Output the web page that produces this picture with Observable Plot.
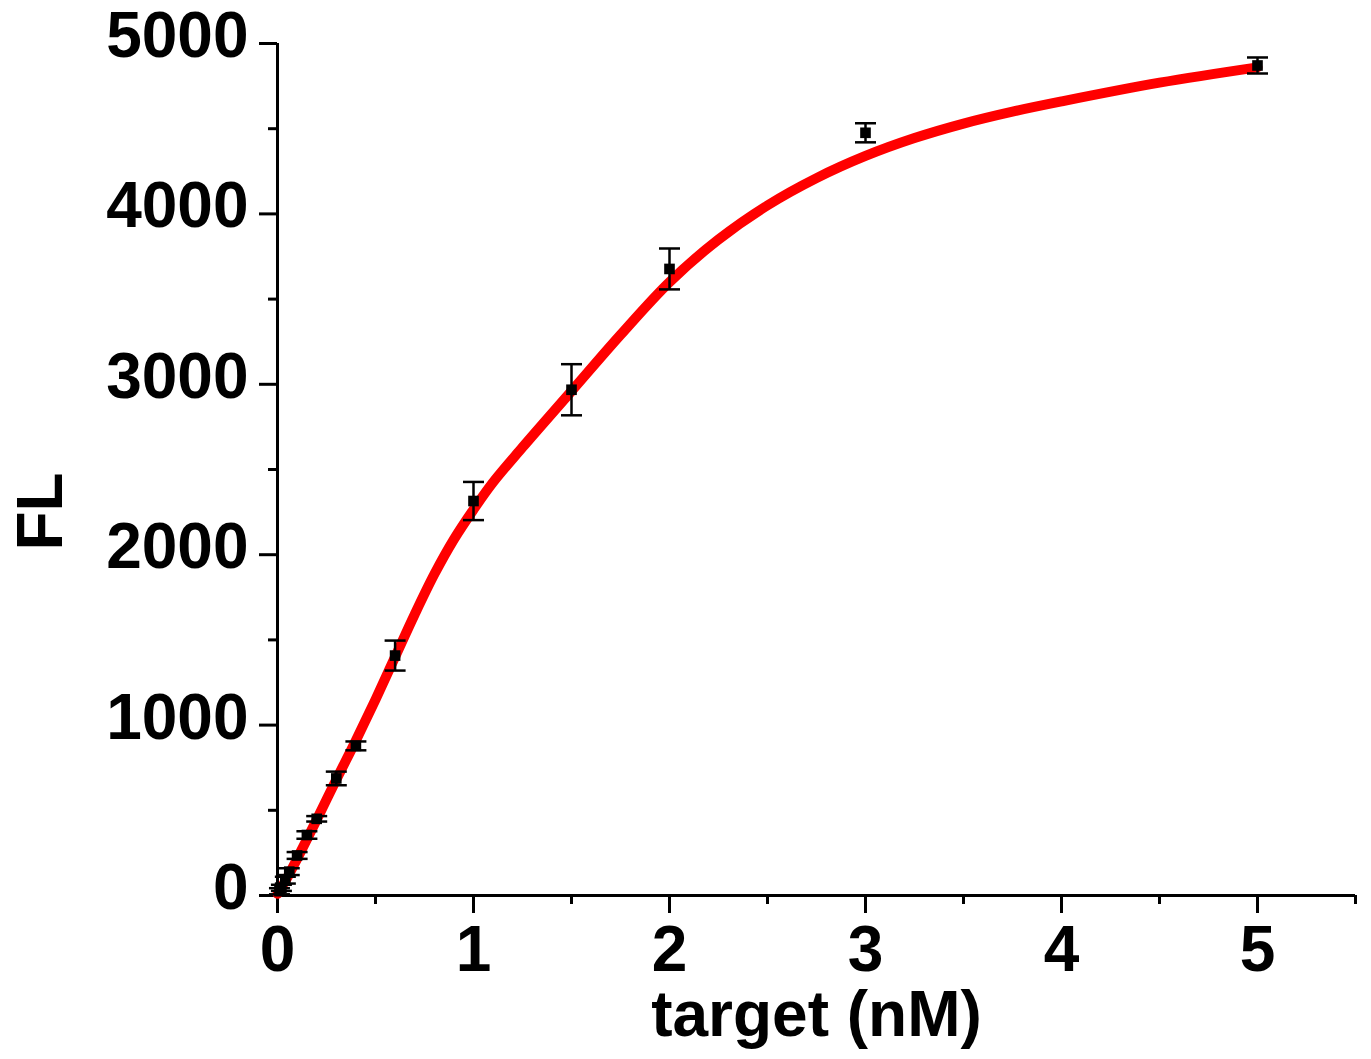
<!DOCTYPE html>
<html>
<head>
<meta charset="utf-8">
<script src="https://cdn.jsdelivr.net/npm/d3@7"></script>
<script src="https://cdn.jsdelivr.net/npm/@observablehq/plot@0.6"></script>
<style>
  html, body { margin: 0; padding: 0; background: #ffffff; }
</style>
</head>
<body>
<div id="chart"></div>
<script>
// Measured points (target concentration in nM, fluorescence, error)
const concentrations = [0.01, 0.02, 0.04, 0.06, 0.1, 0.15, 0.2, 0.3, 0.4, 0.6, 1, 1.5, 2, 3, 5];
const fluorescence   = [25, 45, 90, 140, 235, 355, 450, 687, 878, 1408, 2315, 2968, 3677, 4476, 4871];
const errors         = [18, 18, 20, 20, 20, 22, 16, 40, 26, 88, 112, 150, 120, 56, 47];

// Fitted curve
const fitX = [0, 0.05, 0.1, 0.2, 0.3, 0.4, 0.5, 0.6, 0.7, 0.8, 0.9, 1, 1.1, 1.25, 1.5, 1.75, 2, 2.25, 2.5, 2.75, 3, 3.25, 3.5, 3.75, 4, 4.5, 5];
const fitY = [10, 105, 215, 445, 680, 910, 1150, 1400, 1650, 1885, 2090, 2265, 2425, 2630, 2960, 3290, 3600, 3850, 4050, 4210, 4340, 4445, 4530, 4600, 4660, 4770, 4860];

const xMajorTicks = [0, 1, 2, 3, 4, 5];
const xMinorTicks = [0.5, 1.5, 2.5, 3.5, 4.5, 5.5];
const yMajorTicks = [0, 1000, 2000, 3000, 4000, 5000];
const yMinorTicks = [500, 1500, 2500, 3500, 4500];
const xLabel = "target (nM)";
const yLabel = "FL";

const points = concentrations.map((x, i) => ({x, y: fluorescence[i], e: errors[i]}));
const fit = fitX.map((x, i) => ({x, y: fitY[i]}));

const capSymbol = {
  draw(context, size) {
    const w = Math.sqrt(size / Math.PI);
    context.moveTo(-w, 0);
    context.lineTo(w, 0);
  }
};

const font = "'Liberation Sans', Arial, Helvetica, sans-serif";
const fmt = d3.format("d");

const chart = Plot.plot({
  width: 1371,
  height: 1059,
  marginLeft: 277,
  marginRight: 16,
  marginTop: 43,
  marginBottom: 164,
  style: {fontFamily: font, fontWeight: "bold", background: "#ffffff", color: "#000000", overflow: "visible"},
  x: {domain: [0, 5.5], label: null},
  y: {domain: [0, 5000], label: null},
  marks: [
    // ticks
    Plot.axisX({ticks: xMajorTicks, tickSize: 18, strokeWidth: 3, fill: "none", label: null}),
    Plot.axisX({ticks: xMinorTicks, tickSize: 9, strokeWidth: 3, fill: "none", label: null}),
    Plot.axisY({ticks: yMajorTicks, tickSize: 18, strokeWidth: 3, fill: "none", label: null}),
    Plot.axisY({ticks: yMinorTicks, tickSize: 9, strokeWidth: 3, fill: "none", label: null}),
    // tick labels
    Plot.axisX({ticks: xMajorTicks, tickSize: 0, tickPadding: 30, fontSize: 64, fontWeight: "bold", fontFamily: font, tickFormat: fmt, label: null}),
    Plot.axisY({ticks: yMajorTicks, tickSize: 0, tickPadding: 29, fontSize: 64, fontWeight: "bold", fontFamily: font, tickFormat: fmt, dy: -7, label: null}),
    // axis lines
    Plot.ruleY([0], {stroke: "#000", strokeWidth: 3}),
    Plot.ruleX([0], {stroke: "#000", strokeWidth: 3}),
    // fit curve
    Plot.line(fit, {x: "x", y: "y", stroke: "#ff0000", strokeWidth: 10, curve: "catmull-rom"}),
    // error bars
    Plot.ruleX(points, {x: "x", y1: d => d.y - d.e, y2: d => d.y + d.e, stroke: "#000", strokeWidth: 2.5}),
    Plot.dot(points, {x: "x", y: d => d.y + d.e, symbol: capSymbol, r: 10.5, stroke: "#000", strokeWidth: 2.5, fill: "none"}),
    Plot.dot(points, {x: "x", y: d => d.y - d.e, symbol: capSymbol, r: 10.5, stroke: "#000", strokeWidth: 2.5, fill: "none"}),
    // points
    Plot.dot(points, {x: "x", y: "y", symbol: "square", r: 6, fill: "#000", stroke: "none"}),
    // titles
    Plot.text([xLabel], {frameAnchor: "bottom", lineAnchor: "top", dy: 95, fontSize: 64, fontWeight: "bold", fontFamily: font, fill: "#000"}),
    Plot.text([yLabel], {frameAnchor: "left", textAnchor: "middle", lineAnchor: "middle", rotate: -90, dx: -236, dy: 42, fontSize: 64, fontWeight: "bold", fontFamily: font, fill: "#000"})
  ]
});

document.getElementById("chart").appendChild(chart);
</script>
</body>
</html>
